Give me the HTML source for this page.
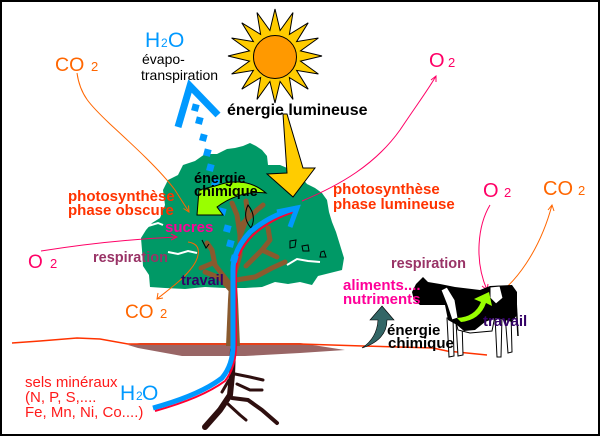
<!DOCTYPE html>
<html><head><meta charset="utf-8"><style>
html,body{margin:0;padding:0;background:#fff;}
svg{display:block;}
text{font-family:"Liberation Sans",Arial,sans-serif;}
.b{font-weight:bold;}
</style></head><body>
<svg width="602" height="441" viewBox="0 0 602 441" xmlns="http://www.w3.org/2000/svg">
<rect x="0" y="0" width="602" height="441" fill="#fff"/>
<rect x="1" y="1" width="598" height="434" fill="none" stroke="#000" stroke-width="2"/>

<!-- ground -->
<polygon points="128,345 140,343 300,343 345,350 300,353 245,356 182,356 138,348" fill="#996666"/>
<polyline points="12,343 40,341 77,338 100,339 128,344 300,344 363,346 433,348 447,351 487,355" fill="none" stroke="#ff3300" stroke-width="1.5"/>

<!-- canopy -->
<polygon fill="#009966" points="243,146 250,143 256,146 262,150 267,156 268,165 280,165 292,170 300,176 307,184 315,188 322,193 327,200 329,212 332,222 336,232 340,245 344,258 342,270 330,273 318,276 312,285 300,282 288,284 275,282 262,287 245,288 225,288 205,287 185,289 165,288 150,287 149,275 143,266 142,250 141,238 146,230 152,223 160,218 165,205 163,190 168,180 178,175 183,165 195,161 205,154 217,154 227,149 235,148"/>
<polyline points="168,252 178,254 188,251 197,253" fill="none" stroke="#fff" stroke-width="2"/>
<polyline points="287,265 297,259 308,261 320,262" fill="none" stroke="#fff" stroke-width="2"/>
<polyline points="148,226 158,223 163,225" fill="none" stroke="#fff" stroke-width="2"/>

<!-- trunk & branches -->
<polygon points="226,346 240,346 238,300 237,284 229,284 228,300" fill="#8a5a2e"/>
<g fill="none" stroke="#8a5a2e" stroke-width="5" stroke-linecap="round" stroke-linejoin="round">
<polyline points="231,290 220,278 205,272"/>
<polyline points="229,283 215,265 212,250 207,243"/>
<polyline points="213,263 201,268"/>
<polyline points="234,276 240,255 240,235 237,215 232,203"/>
<polyline points="240,236 248,215 246,201"/>
<polyline points="240,226 257,210 263,205"/>
<polyline points="236,280 255,277 272,268 285,262"/>
<polyline points="246,266 262,250 277,257"/>
<polyline points="262,250 270,240 268,228"/>
</g>
<path d="M248,205 Q257,216 251,228 Q242,218 248,205 Z" fill="none" stroke="#000" stroke-width="1"/>
<polyline points="202,240 206,248 209,244" fill="none" stroke="#000" stroke-width="1"/>
<polygon points="290,241 296,240 295,247 290,248" fill="none" stroke="#000" stroke-width="1"/>
<polygon points="302,246 308,245 309,251 303,251" fill="none" stroke="#000" stroke-width="1"/>
<polygon points="321,252 324,251 326,257 320,257" fill="none" stroke="#000" stroke-width="1"/>

<!-- roots -->
<g fill="none" stroke="#2e0f0f" stroke-linecap="round" stroke-linejoin="round">
<polyline points="233,350 232,375 230,395 220,410 205,427" stroke-width="6"/>
<polyline points="235,374 250,377 263,380" stroke-width="3"/>
<polyline points="237,384 250,390 262,390" stroke-width="3"/>
<polyline points="232,398 248,400 262,410 277,423" stroke-width="4"/>
<polyline points="228,404 240,415 246,420" stroke-width="3"/>
<polyline points="229,380 222,392" stroke-width="3"/>
</g>

<!-- sap lines -->
<path d="M155,411 Q202,398 225,381 Q236,367 236,345 L236,272 Q236,252 253,235 Q272,218 297,211" fill="none" stroke="#ff0033" stroke-width="2"/>
<path d="M153,408 Q200,395 222,378 Q233,365 233,345 L233,270 Q233,250 250,232 Q270,215 297,208" fill="none" stroke="#0099ff" stroke-width="5"/>
<polyline points="277,212 297,208 290,227" fill="none" stroke="#0099ff" stroke-width="5" stroke-linejoin="miter"/>

<!-- dotted evapotranspiration -->
<g fill="#0099ff">
<rect x="192" y="104" width="7" height="7" transform="rotate(15 195 107)"/>
<rect x="196" y="117" width="7" height="7" transform="rotate(15 199 120)"/>
<rect x="200" y="134" width="7" height="7" transform="rotate(15 203 137)"/>
<rect x="204" y="149" width="7" height="7" transform="rotate(15 207 152)"/>
<rect x="207" y="164" width="7" height="7" transform="rotate(15 210 167)"/>
<rect x="212" y="179" width="7" height="7" transform="rotate(15 215 182)"/>
<rect x="219" y="208" width="7" height="7" transform="rotate(15 222 211)"/>
<rect x="224" y="225" width="7" height="7" transform="rotate(15 227 228)"/>
<rect x="227" y="240" width="7" height="7" transform="rotate(15 230 243)"/>
<rect x="231" y="255" width="7" height="7" transform="rotate(15 234 258)"/>
</g>
<polyline points="178,127 190,86 218,115" fill="none" stroke="#0099ff" stroke-width="7" stroke-linejoin="miter"/>

<!-- yellow arrow -->
<polygon points="283,114 287,114 303,168 315,168 293,197 267,174 287,173" fill="#ffcc00" stroke="#000" stroke-width="1"/>

<!-- lime arrow tree -->
<path d="M266,193 Q245,175 215,186 L199,190 L197,215 L223,215 L217,207 Q240,190 266,193 Z" fill="#99ff00" stroke="#000" stroke-width="1"/>

<!-- sun -->
<polygon points="275,9 280.1,30.5 293,12.6 289.4,34.4 308.2,22.8 296.6,41.6 318.4,38 300.5,50.9 322,56 300.5,61.1 318.4,74 296.6,70.4 308.2,89.2 289.4,77.6 293,99.4 280.1,81.5 275,103 269.9,81.5 257,99.4 260.6,77.6 241.8,89.2 253.4,70.4 231.6,74 249.5,61.1 228,56 249.5,50.9 231.6,38 253.4,41.6 241.8,22.8 260.6,34.4 257,12.6 269.9,30.5" fill="#ffcc00" stroke="#000" stroke-width="1"/>
<circle cx="275" cy="57" r="21.5" fill="#ff9900" stroke="#000" stroke-width="1"/>

<!-- connectors -->
<g fill="none" stroke-width="1">
<path d="M77,73 C80,95 90,105 110,124 C135,147 160,170 175,190 L189,212" stroke="#ff6600"/>
<polyline points="183.5,208.5 189,212 188.5,205.5" stroke="#ff6600"/>
<path d="M302,201 C340,185 375,165 400,130 C418,103 428,90 436,76" stroke="#ff0066"/>
<polyline points="431,80 436,76 436,82" stroke="#ff0066"/>
<path d="M41,251 Q110,240 177,237" stroke="#ff0066"/>
<polyline points="171,234 177,237 171,240" stroke="#ff0066"/>
<path d="M188,242 C203,244 200,258 190,270 C180,282 168,290 157,299" stroke="#ff6600"/>
<polyline points="158,293 157,299 163,298" stroke="#ff6600"/>
<path d="M490,205 C478,225 474,260 487,290" stroke="#ff0066"/>
<polyline points="482,286 487,290 488,284" stroke="#ff0066"/>
<path d="M493,297 C515,285 540,250 552,205" stroke="#ff6600"/>
<polyline points="548,210 552,205 554,211" stroke="#ff6600"/>
</g>

<!-- cow -->
<g stroke="#000" stroke-width="1">
<polygon points="447,318 453,318 454,356 449,357" fill="#fff"/>
<polygon points="456,322 462,322 463,355 458,356" fill="#fff"/>
<polygon points="495,316 502,316 501,357 497,357" fill="#fff"/>
<polygon points="505,314 511,314 512,352 508,353" fill="#fff"/>
<polygon points="455,318 495,316 492,331 470,333 458,330" fill="#fff"/>
</g>
<polygon points="412,292 416,284 423,277 428,282 440,284 455,287 480,290 490,286 512,285 517,292 517,315 512,322 505,320 495,318 485,322 475,330 464,331 457,325 448,320 445,305 432,305 420,305 414,300" fill="#000"/>
<polygon points="441,290 447,287 455,300 458,318 452,320 447,305" fill="#fff" stroke="#000" stroke-width="1"/>
<polygon points="490,287 500,286 503,298 496,304 490,298" fill="#fff" stroke="#000" stroke-width="1"/>
<line x1="516" y1="300" x2="518" y2="336" stroke="#000" stroke-width="1.5"/>
<path d="M457,318 Q475,317 481,302 L474,299 L489,292 L492,306 L486,303 Q480,320 461,322 Z" fill="#99ff00"/>

<!-- teal arrow -->
<path d="M382,306 L394,320 L387,320 Q387,340 362,348 Q377,338 378,320 L370,320 Z" fill="#336666" stroke="#000" stroke-width="0.6"/>

<!-- texts -->
<text x="55" y="71" font-size="19.5" fill="#ff6600">CO</text>
<text x="91" y="71" font-size="13" fill="#ff6600">2</text>

<text x="145" y="47" font-size="21" fill="#0099ff">H</text>
<text x="161" y="47" font-size="12" fill="#0099ff">2</text>
<text x="168" y="47" font-size="21" fill="#0099ff">O</text>
<text x="142" y="64" font-size="14" fill="#000">évapo-</text>
<text x="141" y="80" font-size="14" fill="#000">transpiration</text>

<text x="227" y="115" font-size="16" class="b" fill="#000">énergie lumineuse</text>

<text x="429" y="67" font-size="20" fill="#ff0066">O</text>
<text x="448" y="67" font-size="13" fill="#ff0066">2</text>

<text x="68" y="201" font-size="15" class="b" fill="#ff3300">photosynthèse</text>
<text x="68" y="215" font-size="15" class="b" fill="#ff3300">phase obscure</text>

<text x="333" y="194" font-size="15" class="b" fill="#ff3300">photosynthèse</text>
<text x="333" y="209" font-size="15" class="b" fill="#ff3300">phase lumineuse</text>

<text x="194" y="183" font-size="14.5" class="b" fill="#000">énergie</text>
<text x="194" y="196" font-size="14.5" class="b" fill="#000">chimique</text>

<text x="483" y="197" font-size="20" fill="#ff0066">O</text>
<text x="504" y="197" font-size="13" fill="#ff0066">2</text>
<text x="543" y="195" font-size="20" fill="#ff6600">CO</text>
<text x="578" y="195" font-size="13" fill="#ff6600">2</text>

<text x="165" y="232" font-size="15" class="b" fill="#ff0099">sucres</text>

<text x="28" y="268" font-size="19" fill="#ff0066">O</text>
<text x="50" y="268" font-size="13" fill="#ff0066">2</text>

<text x="93" y="262" font-size="14.5" class="b" fill="#993366">respiration</text>
<text x="181" y="285" font-size="14.5" class="b" fill="#330066">travail</text>

<text x="125" y="318" font-size="19" fill="#ff6600">CO</text>
<text x="160" y="318" font-size="13" fill="#ff6600">2</text>

<text x="391" y="268" font-size="14.5" class="b" fill="#993366">respiration</text>
<text x="343" y="290" font-size="15" class="b" fill="#ff0099">aliments....</text>
<text x="343" y="304" font-size="15" class="b" fill="#ff0099">nutriments</text>
<text x="387" y="335" font-size="15" class="b" fill="#000">énergie</text>
<text x="388" y="348" font-size="15" class="b" fill="#000">chimique</text>
<text x="483" y="326" font-size="15" class="b" fill="#330066">travail</text>

<text x="120" y="400" font-size="21" fill="#0099ff">H</text>
<text x="136" y="400" font-size="12" fill="#0099ff">2</text>
<text x="142" y="400" font-size="21" fill="#0099ff">O</text>

<text x="25" y="387" font-size="15" fill="#ff1a1a">sels minéraux</text>
<text x="25" y="402" font-size="15" fill="#ff1a1a">(N, P, S,....</text>
<text x="25" y="417" font-size="15" fill="#ff1a1a">Fe, Mn, Ni, Co....)</text>
</svg>
</body></html>
